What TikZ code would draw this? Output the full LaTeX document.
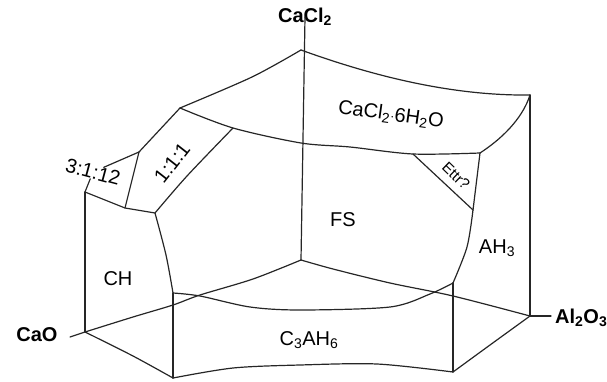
\documentclass[tikz,border=0pt]{standalone}
\usepackage{fontspec}
\setmainfont{Liberation Sans}
\tikzset{
  bnd/.style={line width=1.2pt, black!85, line join=round, line cap=round},
  phase/.style={font=\fontsize{20}{20}\selectfont, inner sep=1pt},
  oxide/.style={font=\fontsize{20}{20}\selectfont\bfseries, inner sep=1pt},
  ratio/.style={phase, fill=white, inner sep=0pt},
}

\begin{document}
\begin{tikzpicture}[x=1pt, y=-1pt]
  \useasboundingbox (0,0) rectangle (607,382);
  %% corners and junctions
  \coordinate (T) at (301,50);
  \coordinate (A) at (180,108);
  \coordinate (B) at (530,95);
  \coordinate (Q) at (233,128);
  \coordinate (R) at (301,143);
  \coordinate (S) at (413,154);
  \coordinate (C) at (480,153);
  \coordinate (D) at (139,152);
  \coordinate (E) at (85,192);
  \coordinate (G) at (125,208);
  \coordinate (H) at (155,213);
  \coordinate (I) at (173,293);
  \coordinate (J) at (173,378);
  \coordinate (F) at (85,332);
  \coordinate (M) at (301,260);
  \coordinate (K) at (453,372);
  \coordinate (L) at (530,316);
  \coordinate (N) at (453,283);
  \coordinate (P) at (473,210);
  \coordinate (Fx) at (70,337);
  \coordinate (Lx) at (551,316);
  %% axis labels
  \node[oxide] (cacl) at (305,17) {CaCl\textsubscript{2}};
  \node[oxide] (cao) at (37,335) {CaO};
  \node[oxide, anchor=west] (alo) at (554,318) {Al\textsubscript{2}O\textsubscript{3}};
  %% axis and ticks
  \draw[bnd] (cacl.south) ++(0,-10) -- (M);
  \draw[bnd] (Fx) -- (F);
  \draw[bnd] (L) -- (Lx);
  %% upper surface
  \draw[bnd] plot[smooth] coordinates {(T) (252,77) (A)};
  \draw[bnd] (T) .. controls (370,75) and (450,96) .. (B);
  \draw[bnd] plot[smooth] coordinates {(A) (Q) (R) (350,147) (S) (C)};
  \draw[bnd] (C) .. controls (500,140) and (522,120) .. (B);
  \draw[bnd] (A) -- (D);
  \node[ratio, rotate=-15] (r312) at (93,172) {3:1:12};
  \draw[bnd] (D) -- (r312) -- (E);
  \draw[bnd] (D) -- (G);
  \draw[bnd] (E) -- (G) -- (H);
  \draw[bnd] plot[smooth] coordinates {(H) (187,176) (Q)};
  \draw[bnd] plot[smooth] coordinates {(H) (166,255) (I)};
  \draw[bnd] (S) -- (P);
  \draw[bnd] (C) -- (P);
  \draw[bnd] plot[smooth] coordinates {(P) (467,247) (N)};
  %% side edges
  \draw[bnd] (E) -- (F);
  \draw[bnd] (I) -- (J);
  \draw[bnd] (K) -- (N);
  \draw[bnd] (B) -- (L);
  %% base
  \draw[bnd] plot[smooth] coordinates {(F) (133,317) (173,305) (200,295) (253,279) (M)};
  \draw[bnd] plot[smooth] coordinates {(M) (333,269) (390,283) (453,296) (L)};
  \draw[bnd] plot[smooth] coordinates {(F) (133,356) (J)};
  \draw[bnd] plot[smooth] coordinates {(J) (233,368) (300,365) (377,364) (K)};
  \draw[bnd] plot[smooth] coordinates {(K) (490,345) (L)};
  \draw[bnd] plot[smooth] coordinates {(I) (200,296) (250,307) (300,310) (390,307) (430,294) (N)};
  %% phase fields
  \node[phase, rotate=-8] (hex) at (391,115) {CaCl\textsubscript{2}{\fontsize{14}{14}\selectfont$\cdot$}6H\textsubscript{2}O};
  \node[phase, rotate=52] (r111) at (172,163) {1:1:1};
  \node[phase, rotate=-44, font=\fontsize{15}{15}\selectfont] (ettr) at (456,176) {Ettr?};
  \node[phase] (fs) at (343,220) {FS};
  \node[phase] (ch) at (118,279) {CH};
  \node[phase] (ah3) at (497,248) {AH\textsubscript{3}};
  \node[phase] (c3ah6) at (309,340) {C\textsubscript{3}AH\textsubscript{6}};
\end{tikzpicture}
\end{document}
